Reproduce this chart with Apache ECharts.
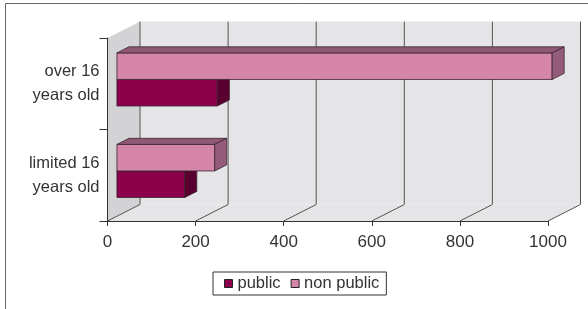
<!DOCTYPE html>
<html>
<head>
<meta charset="utf-8">
<script src="https://cdn.jsdelivr.net/npm/echarts@6/dist/echarts.min.js"></script>
<style>
  html, body { margin: 0; padding: 0; background: #fff; }
  #chart { width: 588px; height: 309px; }
</style>
</head>
<body>
<div id="chart"></div>
<script>
// data
var categories = ['over 16\nyears old', 'limited 16\nyears old'];
var publicValues = [228, 154];
var nonPublicValues = [988, 222];
var xTicks = [0, 200, 400, 600, 800, 1000];

// fake 3d depth (pixels) and bar placement inside depth
var DX = 32.5, DY = -16.5;
var T1 = 0.29, T2 = 0.66;
var BAR_FRAC = 0.29;

var chart = echarts.init(document.getElementById('chart'));

function pt(x, y, t) {
    return [x + DX * t, y + DY * t];
}

function wallsItem(params, api) {
    var cs = params.coordSys;
    var x0 = cs.x, x1 = cs.x + cs.width, yt = cs.y, yb = cs.y + cs.height;
    var kids = [];
    // floor
    kids.push({type: 'polygon', shape: {points: [[x0, yb], [x1, yb], pt(x1, yb, 1), pt(x0, yb, 1)]},
        style: {fill: '#e5e5e7', stroke: null}});
    // back wall
    kids.push({type: 'polygon', shape: {points: [pt(x0, yt, 1), pt(x1, yt, 1), pt(x1, yb, 1), pt(x0, yb, 1)]},
        style: {fill: '#e5e5e7', stroke: null}});
    // left wall
    kids.push({type: 'polygon', shape: {points: [[x0, yt], pt(x0, yt, 1), pt(x0, yb, 1), [x0, yb]]},
        style: {fill: '#d3d3d5', stroke: null}});
    xTicks.forEach(function (v) {
        var x = api.coord([v, 0])[0];
        var b = pt(x, yb, 1), t = pt(x, yt, 1);
        kids.push({type: 'polyline', shape: {points: [[x, yb], b, t]},
            style: {fill: null, stroke: '#555', lineWidth: 1}});
    });
    return {type: 'group', children: kids};
}

function barItem(slot, front, top, side) {
    return function (params, api) {
        var cat = api.value(1);
        var end = api.coord([api.value(0), cat]);
        var start = api.coord([0, cat]);
        var band = api.size([0, 1])[1];
        var h = band * BAR_FRAC;
        var yc = end[1] + 0.5;
        var ya = slot === 0 ? yc : yc - h;
        var yz = ya + h;
        var xl = start[0], xr = end[0];
        var edge = {stroke: '#3b2331', lineWidth: 0.8, lineJoin: 'round'};
        return {
            type: 'group',
            children: [
                {type: 'polygon', shape: {points: [pt(xl, ya, T1), pt(xr, ya, T1), pt(xr, yz, T1), pt(xl, yz, T1)]},
                    style: Object.assign({fill: front}, edge)},
                {type: 'polygon', shape: {points: [pt(xl, ya, T1), pt(xr, ya, T1), pt(xr, ya, T2), pt(xl, ya, T2)]},
                    style: Object.assign({fill: top}, edge)},
                {type: 'polygon', shape: {points: [pt(xr, ya, T1), pt(xr, ya, T2), pt(xr, yz, T2), pt(xr, yz, T1)]},
                    style: Object.assign({fill: side}, edge)}
            ]
        };
    };
}

function toItems(values) {
    return values.map(function (v, i) { return [v, i]; });
}

chart.setOption({
    animation: false,
    textStyle: {fontFamily: 'Liberation Sans, Arial, sans-serif'},
    graphic: [{
        type: 'rect', z: -10,
        shape: {x: 5.5, y: 3.5, width: 620, height: 340},
        style: {fill: null, stroke: '#666', lineWidth: 1}
    }],
    grid: {left: 107.5, top: 38, width: 440.5, height: 183},
    legend: {
        data: ['public', 'non public'],
        left: 213, top: 272,
        padding: [3, 7, 3, 11],
        borderColor: '#333', borderWidth: 1,
        itemWidth: 8, itemHeight: 8, itemGap: 10,
        icon: 'rect',
        itemStyle: {borderColor: '#222', borderWidth: 1},
        textStyle: {fontSize: 16.5, color: '#333', fontFamily: 'Liberation Sans'}
    },
    xAxis: {
        type: 'value', min: 0, max: 1000, interval: 200, z: 10,
        axisLine: {show: true, lineStyle: {color: '#333'}},
        axisTick: {show: true, length: 5, lineStyle: {color: '#333'}},
        splitLine: {show: false},
        axisLabel: {fontSize: 17, color: '#333', margin: 13, formatter: function (v) { return String(v); }}
    },
    yAxis: {
        type: 'category', data: categories, inverse: true, z: 10,
        axisLine: {show: true, lineStyle: {color: '#333'}},
        axisTick: {show: true, length: 8, lineStyle: {color: '#333'}},
        axisLabel: {fontSize: 16.5, color: '#333', lineHeight: 24, margin: 8, align: 'right'}
    },
    series: [
        {
            name: 'walls', type: 'custom', z: 1, silent: true,
            renderItem: wallsItem, data: [[0, 0]]
        },
        {
            name: 'public', type: 'custom', z: 3,
            itemStyle: {color: '#8c004b'},
            renderItem: barItem(0, '#8c004b', '#6b0a3d', '#5a0030'),
            data: toItems(publicValues)
        },
        {
            name: 'non public', type: 'custom', z: 3,
            itemStyle: {color: '#d585a8'},
            renderItem: barItem(1, '#d585a8', '#8f5874', '#955c7a'),
            data: toItems(nonPublicValues)
        }
    ]
});
</script>
</body>
</html>
